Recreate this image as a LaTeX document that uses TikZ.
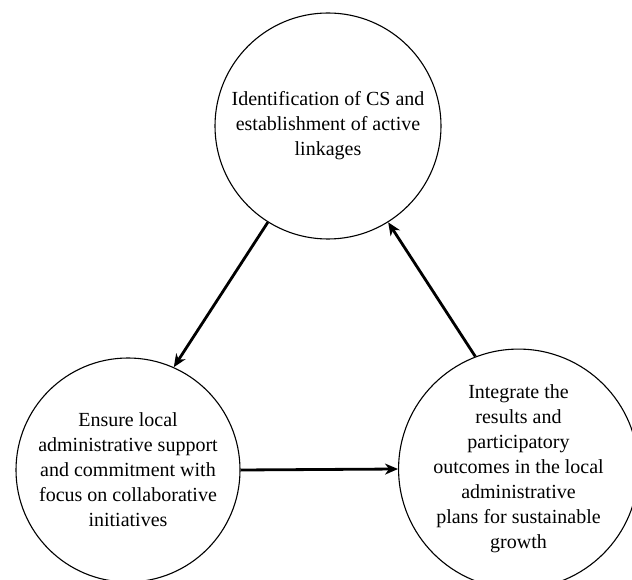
\documentclass[tikz,border=0pt]{standalone}
\usepackage{fontspec}
\setmainfont{Liberation Serif}
\usetikzlibrary{arrows.meta}
\definecolor{nero}{RGB}{0,0,0}
\tikzstyle{ciclo}=[
    x=1pt, y=1pt,
    fase/.style={circle, draw=nero, line width=1.1pt, align=center, inner sep=0pt,
        font={\fontsize{20}{25}\selectfont}},
    freccia/.style={nero, line width=2.8pt, -{Stealth[length=13pt,width=11pt,inset=4pt]}},
]

\begin{document}
\begin{tikzpicture}[ciclo]

    \useasboundingbox (0,0) rectangle (632,579);

    % le tre fasi
    \node[fase, minimum size=226pt] (identificazione) at (328,453)
        {Identification of CS and\\establishment of active\\linkages};
    \node[fase, minimum size=224pt] (supporto) at (128,109)
        {Ensure local\\administrative support\\and commitment with\\focus on collaborative\\initiatives};
    \node[fase, minimum size=223pt] (integrazione) at (518.5,110)
        {Integrate the\\results and\\participatory\\outcomes in the local\\administrative\\plans for sustainable\\growth};

    % frecce del ciclo
    \draw[freccia] (identificazione.238) -- (supporto.66);
    \draw[freccia] (supporto.east) -- (integrazione.west);
    \draw[freccia] (integrazione.111) -- (identificazione.302);

\end{tikzpicture}
\end{document}
